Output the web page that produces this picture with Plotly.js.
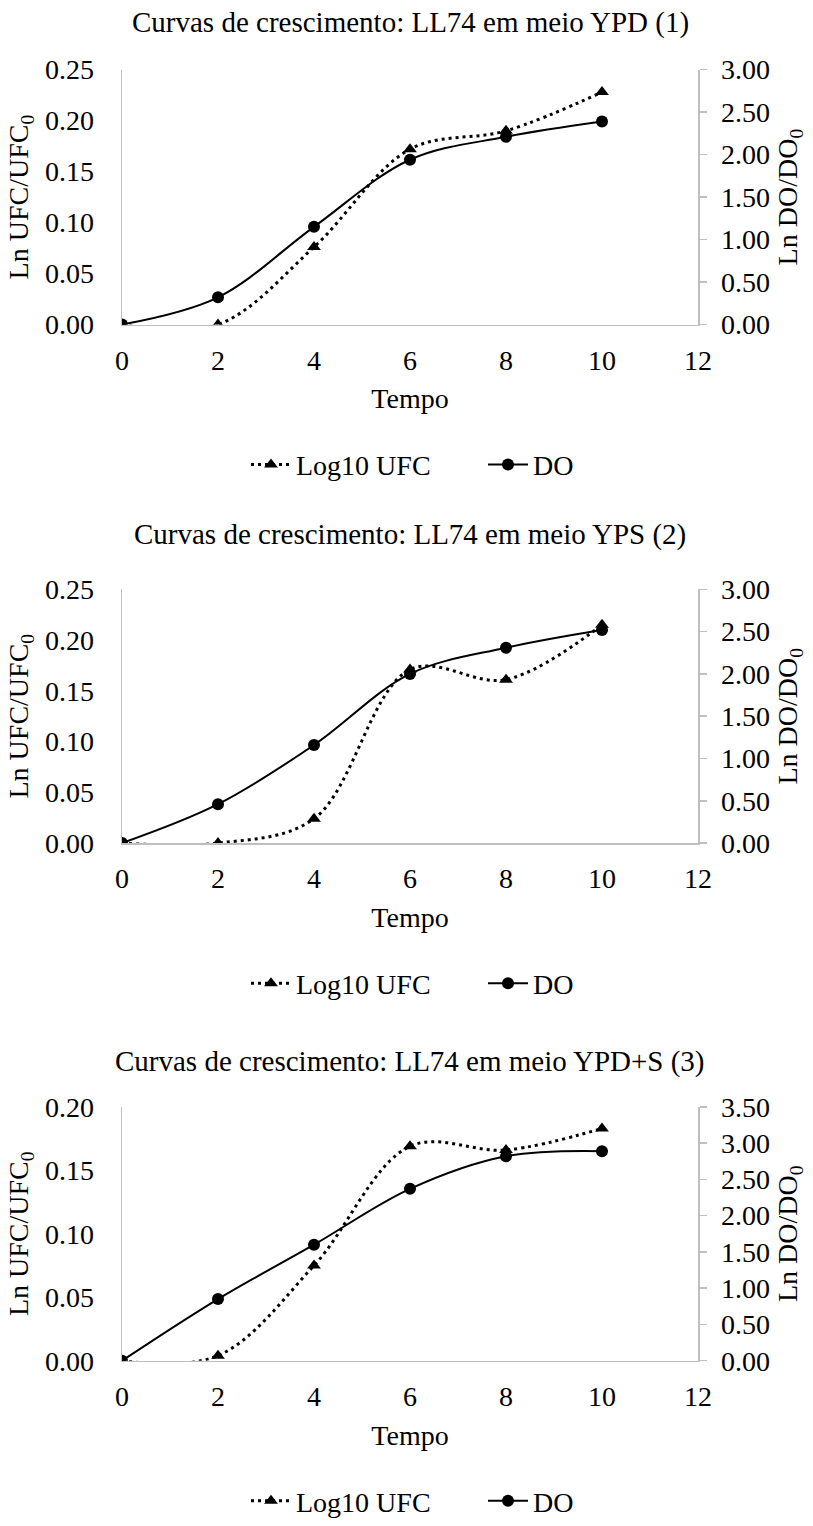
<!DOCTYPE html>
<html>
<head>
<meta charset="utf-8">
<script src="https://cdn.plot.ly/plotly-3.0.1.min.js"></script>
<style>
html,body{margin:0;padding:0;background:#fff;}
#chart{width:813px;height:1526px;}
</style>
</head>
<body>
<div id="chart"></div>
<script>
// ---- data ----
var time = [0, 2, 4, 6, 8, 10];
var titles = [
  "Curvas de crescimento: LL74 em meio YPD (1)",
  "Curvas de crescimento: LL74 em meio YPS (2)",
  "Curvas de crescimento: LL74 em meio YPD+S (3)"
];
var ufc1 = [0, 0, 0.076, 0.172, 0.190, 0.228];
var do1  = [0, 0.32, 1.15, 1.94, 2.21, 2.39];
var ufc2 = [0, 0, 0.024, 0.171, 0.161, 0.215];
var do2  = [0, 0.46, 1.16, 2.00, 2.31, 2.52];
var ufc3 = [0, 0.004, 0.075, 0.169, 0.166, 0.183];
var do3  = [0, 0.85, 1.60, 2.37, 2.82, 2.89];
var seriesNames = ["Log10 UFC", "DO"];
var xTitle = "Tempo";
var yLeftTitle = "Ln UFC/UFC<sub>0</sub>";
var yRightTitle = "Ln DO/DO<sub>0</sub>";
var leftRanges = [[0, 0.25], [0, 0.25], [0, 0.20]];
var rightRanges = [[0, 3], [0, 3], [0, 3.5]];

// ---- layout geometry (pixels) ----
var W = 813, H = 1526;
var plotTop = [70, 592, 1112];
var plotBot = [326, 847, 1367];
var titleY = [23, 537, 1066];
var legendY = [467, 988, 1508];

var FONT = "Liberation Serif";
var GRAY = "#bfbfbf";
function py(p){ return 1 - p / H; }
function px(p){ return (p - 122) / (698 - 122); }

var ufcs = [ufc1, ufc2, ufc3];
var dos = [do1, do2, do3];
var traces = [];
var layout = {
  width: W, height: H,
  margin: {l: 122, r: 115, t: 0, b: 0},
  paper_bgcolor: "#fff", plot_bgcolor: "#fff",
  font: {family: FONT, size: 28, color: "#000"},
  showlegend: true,
  annotations: []
};

for (var i = 0; i < 3; i++) {
  var xa = i === 0 ? "x" : "x" + (i + 1);
  var yl = "y" + (i === 0 ? "" : (2 * i + 1));
  var yr = "y" + (2 * i + 2);
  var lg = i === 0 ? "legend" : "legend" + (i + 1);
  traces.push({
    x: time, y: ufcs[i], xaxis: xa, yaxis: yl, name: seriesNames[0],
    type: "scatter", mode: "lines+markers", legend: lg,
    line: {color: "#000", width: 3, dash: "3px,4px", shape: "spline", smoothing: 1},
    marker: {symbol: "triangle-up", size: 12, color: "#000"}
  });
  traces.push({
    x: time, y: dos[i], xaxis: xa, yaxis: yr, name: seriesNames[1],
    type: "scatter", mode: "lines+markers", legend: lg,
    line: {color: "#000", width: 2, shape: "spline", smoothing: 1},
    marker: {symbol: "circle", size: 12, color: "#000"}
  });
  var dom = [py(plotBot[i]), py(plotTop[i])];
  var xname = i === 0 ? "xaxis" : "xaxis" + (i + 1);
  var ylname = i === 0 ? "yaxis" : "yaxis" + (2 * i + 1);
  var yrname = "yaxis" + (2 * i + 2);
  layout[xname] = {
    domain: [0, 1], anchor: yl, range: [0, 12], dtick: 2, tick0: 0,
    showline: true, linecolor: GRAY, linewidth: 1.5, ticks: "",
    showgrid: false, zeroline: false, automargin: false,
    ticklabelstandoff: 10,
    tickfont: {family: FONT, size: 28, color: "#000"},
    title: {text: xTitle, font: {family: FONT, size: 28, color: "#000"}, standoff: 14}
  };
  layout[ylname] = {
    domain: dom, anchor: xa, range: leftRanges[i], dtick: 0.05, tick0: 0,
    tickformat: ".2f", showline: true, linecolor: GRAY, linewidth: 1.5,
    ticks: "", showgrid: false, zeroline: false, automargin: false,
    ticklabelstandoff: 21,
    tickfont: {family: FONT, size: 28, color: "#000"},
    title: {text: yLeftTitle, font: {family: FONT, size: 28, color: "#000"}, standoff: 8}
  };
  layout[yrname] = {
    domain: dom, anchor: xa, overlaying: yl, side: "right",
    range: rightRanges[i], dtick: 0.5, tick0: 0, tickformat: ".2f",
    showline: true, linecolor: GRAY, linewidth: 1.5,
    ticks: "outside", ticklen: 7, tickcolor: GRAY, tickwidth: 1.5,
    showgrid: false, zeroline: false, automargin: false,
    ticklabelstandoff: 9,
    tickfont: {family: FONT, size: 28, color: "#000"},
    title: {text: yRightTitle, font: {family: FONT, size: 28, color: "#000"}, standoff: 8}
  };
  layout[lg] = {
    orientation: "h", x: px(246), xanchor: "left", y: py(legendY[i]), yanchor: "middle",
    font: {family: FONT, size: 28, color: "#000"}, bgcolor: "rgba(0,0,0,0)",
    itemwidth: 40, traceorder: "normal", entrywidth: 182, entrywidthmode: "pixels"
  };
  layout.annotations.push({
    text: titles[i], xref: "paper", yref: "paper", x: 0.5, y: py(titleY[i]),
    xanchor: "center", yanchor: "middle", showarrow: false,
    font: {family: FONT, size: 29, color: "#000"}
  });
}

Plotly.newPlot("chart", traces, layout, {staticPlot: true, displayModeBar: false});
</script>
</body>
</html>
